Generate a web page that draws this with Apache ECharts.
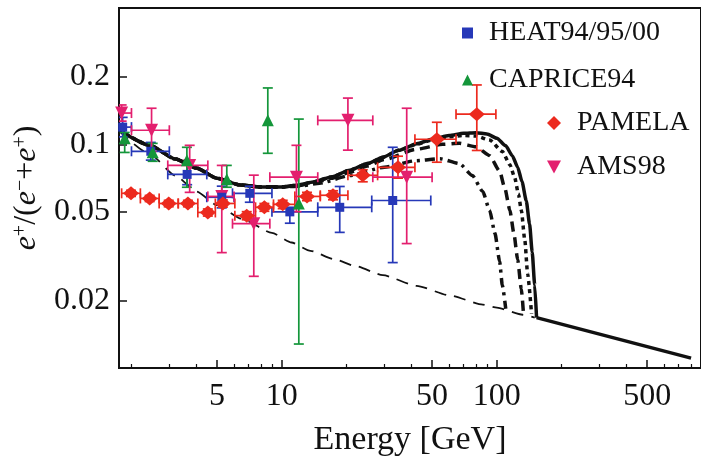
<!DOCTYPE html>
<html>
<head>
<meta charset="utf-8">
<script src="https://cdn.jsdelivr.net/npm/echarts@6/dist/echarts.min.js"></script>
<style>
  html, body { margin: 0; padding: 0; background: #fff; }
  #chart { width: 701px; height: 466px; }
</style>
</head>
<body>
<div id="chart"></div>
<script>
// axis ticks
var energyTicks = [5, 10, 50, 100, 500];
var energyMinorTicks = [2, 3, 4, 6, 7, 8, 9, 20, 30, 40, 60, 70, 80, 90, 200, 300, 400, 600, 700, 800];
var ratioTicks = [0.02, 0.05, 0.1, 0.2];

// model curves [E, e+/(e-+e+)]
var background = [
    [1.75, 0.115], [2.43, 0.0905], [3.2, 0.0725], [4.02, 0.0615], [5, 0.0535], [6.5, 0.0465],
    [9.0, 0.0402], [11.1, 0.0364], [13.6, 0.0334], [17.6, 0.0306], [21.9, 0.0286], [29.5, 0.0260],
    [42.4, 0.0233], [60.4, 0.0211], [86, 0.0192], [100, 0.0186], [132, 0.0173], [150, 0.0168]
];
var tailSolid = [[153, 0.0168], [800, 0.01107]];
var curveSolid = [
    [1.75, 0.116], [2.43, 0.099], [3.2, 0.086], [4.0, 0.0784], [5, 0.0705], [6.4, 0.0658], [8, 0.0645],
    [10, 0.0645], [12, 0.0658], [14, 0.0678], [17, 0.0715], [20.7, 0.0766], [25, 0.082], [29.5, 0.0875],
    [35, 0.094], [42.4, 0.1005], [50, 0.1055], [60, 0.1095], [70, 0.112], [80, 0.1128], [90, 0.1112],
    [100, 0.1065], [110, 0.0985], [118, 0.089], [125, 0.079], [131, 0.068], [137, 0.056],
    [142, 0.044], [146, 0.033], [150, 0.0235], [153, 0.0168]
];
var curveDotted = [
    [1.75, 0.116], [2.43, 0.099], [3.2, 0.086], [4.0, 0.0784], [5, 0.0705], [6.4, 0.0658], [8, 0.0645],
    [10, 0.0645], [12, 0.0658], [14, 0.0678], [17, 0.0715], [20.7, 0.0766], [25, 0.082], [29.5, 0.0875],
    [35, 0.094], [42.4, 0.1], [50, 0.1045], [60, 0.108], [70, 0.1095], [80, 0.109], [92.6, 0.1045],
    [106, 0.093], [115, 0.081], [121, 0.0712], [126, 0.060], [130, 0.0506], [135, 0.0371],
    [139, 0.0264], [145, 0.0175]
];
var curveDashed = [
    [1.75, 0.116], [2.43, 0.099], [3.2, 0.086], [4.0, 0.0784], [5, 0.0705], [6.4, 0.0658], [8, 0.0645],
    [10, 0.0645], [12, 0.0655], [14, 0.0672], [17, 0.0705], [20.7, 0.075], [25, 0.080], [30, 0.0855],
    [42, 0.095], [56, 0.1], [67, 0.101], [80, 0.0975], [92.6, 0.089], [103, 0.076], [109, 0.0635],
    [115, 0.0507], [120, 0.040], [125, 0.0305], [130, 0.0225], [133, 0.0175]
];
var curveDashDot = [
    [1.75, 0.116], [2.43, 0.099], [3.2, 0.086], [4.0, 0.0784], [5, 0.0705], [6.4, 0.0658], [8, 0.0645],
    [10, 0.0645], [12, 0.065], [15, 0.067], [20.7, 0.0725], [30, 0.079], [42, 0.0845], [54.5, 0.0862],
    [67, 0.082], [77, 0.0725], [86, 0.0615], [92.6, 0.0507], [98, 0.040], [103, 0.030], [106, 0.0235],
    [110, 0.0184]
];

// measurements [E, ratio, Elow, Ehigh, ratioLow, ratioHigh]
var heat = [
    [1.82, 0.1194, 1.7, 2.0, 0.108, 0.132],
    [2.46, 0.0931, 2.0, 3.0, 0.085, 0.102],
    [3.63, 0.0734, 2.95, 4.48, 0.066, 0.081],
    [5.26, 0.058, 4.48, 6.0, 0.052, 0.065],
    [7.10, 0.0604, 5.9, 9.0, 0.0551, 0.065],
    [10.9, 0.0499, 9.0, 14.7, 0.0444, 0.0523],
    [18.6, 0.0523, 14.7, 26.2, 0.0404, 0.0648],
    [32.8, 0.0561, 26.2, 49.3, 0.0296, 0.097]
];
var caprice = [
    [1.86, 0.1064, 1.86, 1.86, 0.092, 0.113],
    [2.51, 0.0922, 2.51, 2.51, 0.084, 0.101],
    [3.62, 0.0849, 3.62, 3.62, 0.0643, 0.097],
    [5.55, 0.0699, 5.55, 5.55, 0.0643, 0.0805],
    [8.61, 0.128, 8.61, 8.61, 0.0912, 0.1787],
    [12.0, 0.0544, 12.0, 12.0, 0.0128, 0.1297]
];
var pamela = [
    [1.99, 0.0604, 1.8, 2.2, 0.0585, 0.0623],
    [2.43, 0.0573, 2.2, 2.69, 0.0555, 0.0591],
    [2.98, 0.0544, 2.69, 3.3, 0.0526, 0.0562],
    [3.66, 0.0544, 3.3, 4.07, 0.0526, 0.0562],
    [4.53, 0.0496, 4.07, 4.91, 0.0478, 0.0514],
    [5.32, 0.0544, 4.91, 6.05, 0.0524, 0.0564],
    [6.87, 0.0480, 6.05, 7.55, 0.0460, 0.0500],
    [8.3, 0.0523, 7.55, 9.15, 0.0502, 0.0544],
    [10.1, 0.0539, 9.15, 11.5, 0.0516, 0.0562],
    [13.1, 0.0585, 11.5, 15.1, 0.0560, 0.0610],
    [17.3, 0.0592, 15.1, 20.3, 0.0565, 0.0620],
    [23.8, 0.0727, 20.3, 27.9, 0.0680, 0.0770],
    [34.7, 0.0789, 27.9, 41.6, 0.0706, 0.0885],
    [52.6, 0.1054, 41.6, 64.6, 0.0832, 0.1255],
    [80.7, 0.1364, 64.6, 99, 0.0939, 0.1843]
];
var ams = [
    [1.80, 0.138, 1.6, 2.0, 0.127, 0.150],
    [2.48, 0.1156, 2.0, 3.0, 0.093, 0.145],
    [3.73, 0.0805, 2.95, 4.53, 0.061, 0.099],
    [5.26, 0.0585, 4.53, 6.0, 0.0328, 0.0805],
    [7.41, 0.0442, 5.9, 8.8, 0.0257, 0.0728],
    [11.7, 0.0713, 8.8, 14.7, 0.050, 0.099],
    [20.3, 0.128, 14.7, 26.5, 0.0942, 0.161],
    [38.1, 0.0713, 26.5, 50, 0.036, 0.145]
];

var serif = '"Liberation Serif", "DejaVu Serif", serif';

function errorBars(color) {
    return function (params, api) {
        var cap = 5;
        var p = api.coord([api.value(0), api.value(1)]);
        var lo = api.coord([api.value(0), api.value(4)]);
        var hi = api.coord([api.value(0), api.value(5)]);
        var l = api.coord([api.value(2), api.value(1)]);
        var r = api.coord([api.value(3), api.value(1)]);
        var children = [];
        function seg(x1, y1, x2, y2) {
            children.push({
                type: 'line',
                shape: { x1: x1, y1: y1, x2: x2, y2: y2 },
                style: { stroke: color, lineWidth: 1.7 }
            });
        }
        if (lo[1] - hi[1] > 1) {
            seg(p[0], lo[1], p[0], hi[1]);
            seg(p[0] - cap, lo[1], p[0] + cap, lo[1]);
            seg(p[0] - cap, hi[1], p[0] + cap, hi[1]);
        }
        if (r[0] - l[0] > 1) {
            seg(l[0], p[1], r[0], p[1]);
            seg(l[0], p[1] - cap, l[0], p[1] + cap);
            seg(r[0], p[1] - cap, r[0], p[1] + cap);
        }
        return { type: 'group', children: children };
    };
}

function curve(name, data, width, dash, smooth) {
    return {
        name: name,
        type: 'line',
        data: data,
        showSymbol: false,
        smooth: smooth,
        smoothMonotone: 'x',
        clip: true,
        z: 2,
        lineStyle: { color: '#111', width: width, type: dash, cap: 'butt' }
    };
}

function bars(name, data, color) {
    return {
        name: name + ' err',
        type: 'custom',
        data: data,
        clip: true,
        z: 3,
        encode: { x: [0, 2, 3], y: [1, 4, 5] },
        renderItem: errorBars(color),
        silent: true
    };
}

function points(name, data, color, symbol, size, rotate) {
    return {
        name: name,
        type: 'scatter',
        data: data.map(function (d) { return [d[0], d[1]]; }),
        symbol: symbol,
        symbolSize: size,
        symbolRotate: rotate || 0,
        clip: true,
        z: 4,
        itemStyle: { color: color, opacity: 1 }
    };
}

var colHeat = '#2638b8', colCaprice = '#14963a', colPamela = '#ec2a1e', colAms = '#e31f6e';

var mychart = echarts.init(document.getElementById('chart'), null, { renderer: 'canvas' });
var option = {
    animation: false,
    backgroundColor: '#fff',
    grid: {
        left: 119, top: 8, right: 0, bottom: 98,
        show: true, borderColor: '#111', borderWidth: 2, backgroundColor: 'transparent'
    },
    legend: [{
        orient: 'vertical',
        left: 457, top: 14,
        itemWidth: 11, itemHeight: 11, itemGap: 19,
        data: ['HEAT94/95/00', 'CAPRICE94'],
        textStyle: { fontFamily: serif, fontSize: 28, color: '#111', lineHeight: 28, padding: [0, 0, 0, 11] }
    }, {
        orient: 'vertical',
        left: 542, top: 104,
        itemWidth: 14, itemHeight: 14, itemGap: 16,
        data: ['PAMELA', { name: 'AMS98', icon: 'path://M0,0L12,0L6,11Z' }],
        textStyle: { fontFamily: serif, fontSize: 28, color: '#111', lineHeight: 28, padding: [0, 0, 0, 11] }
    }],
    xAxis: [{
        type: 'log',
        min: 1.75, max: 890,
        name: 'Energy [GeV]',
        nameLocation: 'middle',
        nameGap: 55,
        nameTextStyle: { fontFamily: serif, fontSize: 34, color: '#111' },
        axisLine: { show: true, lineStyle: { color: '#111', width: 2 } },
        axisTick: { inside: true, length: 8, customValues: energyTicks, lineStyle: { color: '#111', width: 1.5 } },
        axisLabel: {
            customValues: energyTicks,
            margin: 13,
            fontFamily: serif, fontSize: 32, color: '#111',
            formatter: function (v) { return String(Math.round(v)); }
        },
        splitLine: { show: false }
    }, {
        // minor ticks only
        type: 'log',
        min: 1.75, max: 890,
        position: 'bottom',
        axisLine: { show: false },
        axisTick: { inside: true, length: 4, customValues: energyMinorTicks, lineStyle: { color: '#111', width: 1.2 } },
        axisLabel: { show: false },
        splitLine: { show: false }
    }],
    yAxis: {
        type: 'log',
        min: 0.01, max: 0.407,
        name: '{i|e}{s|+}/({i|e}{s|\u2212}+{i|e}{s|+})',
        nameLocation: 'middle',
        nameRotate: 90,
        nameGap: 76,
        nameTextStyle: {
            color: '#111',
            rich: {
                i: { fontFamily: serif, fontStyle: 'italic', fontSize: 32, color: '#111' },
                s: { fontFamily: serif, fontSize: 20, color: '#111', verticalAlign: 'top', padding: [0, 0, 12, 0] }
            },
            fontFamily: serif, fontSize: 32
        },
        axisLine: { show: true, lineStyle: { color: '#111', width: 2 } },
        axisTick: { inside: true, length: 8, customValues: ratioTicks, lineStyle: { color: '#111', width: 1.5 } },
        axisLabel: {
            customValues: ratioTicks,
            margin: 9,
            fontFamily: serif, fontSize: 32, color: '#111',
            formatter: function (v) { return String(+Number(v).toPrecision(2)); }
        },
        splitLine: { show: false }
    },
    series: [
        curve('background', background, 1.8, [12, 8], 0.2),
        curve('tail', tailSolid, 3.5, 'solid', false),
        curve('solid', curveSolid, 3.5, 'solid', 0.2),
        curve('dotted', curveDotted, 3.5, [4, 4], 0.2),
        curve('dashed', curveDashed, 3.5, [10, 6], 0.2),
        curve('dashdot', curveDashDot, 3.5, [10, 5, 3, 5], 0.2),
        bars('HEAT94/95/00', heat, colHeat),
        bars('CAPRICE94', caprice, colCaprice),
        bars('PAMELA', pamela, colPamela),
        bars('AMS98', ams, colAms),
        points('AMS98', ams, colAms, 'triangle', 13, 180),
        points('HEAT94/95/00', heat, colHeat, 'rect', 9),
        points('CAPRICE94', caprice, colCaprice, 'triangle', 12),
        points('PAMELA', pamela, colPamela, 'diamond', [16, 14])
    ]
};
mychart.setOption(option);
</script>
</body>
</html>
